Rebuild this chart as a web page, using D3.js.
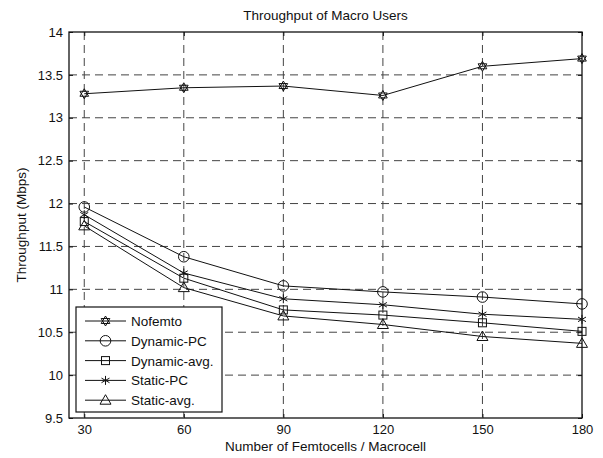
<!DOCTYPE html>
<html>
<head>
<meta charset='UTF-8'/>
<script src="https://cdn.jsdelivr.net/npm/d3@7"></script>
<style>
  body { margin: 0; background: #fff; }
  text { font-family: "Liberation Sans", Arial, sans-serif; fill: #111; }
  .grid line { stroke: #444; stroke-dasharray: 8 5; stroke-width: 1; }
  .series { fill: none; stroke: #111; stroke-width: 1; }
  .mark { fill: none; stroke: #111; stroke-width: 1; }
</style>
</head>
<body>
<svg id='fig' width='603' height='458'></svg>
<script>
  // data
  const femto = [30, 60, 90, 120, 150, 180]
  const names = ['Nofemto', 'Dynamic-PC', 'Dynamic-avg.', 'Static-PC', 'Static-avg.']
  const nofemto    = [13.28, 13.35, 13.37, 13.26, 13.60, 13.69]
  const dynamicPC  = [11.96, 11.38, 11.04, 10.97, 10.91, 10.83]
  const dynamicAvg = [11.79, 11.13, 10.76, 10.70, 10.61, 10.51]
  const staticPC   = [11.87, 11.19, 10.89, 10.82, 10.71, 10.65]
  const staticAvg  = [11.74, 11.02, 10.69, 10.59, 10.45, 10.37]
  const yTicks = [9.5, 10, 10.5, 11, 11.5, 12, 12.5, 13, 13.5, 14]
  const series = [nofemto, dynamicPC, dynamicAvg, staticPC, staticAvg]
  const shapes = ['hexagram', 'circle', 'square', 'asterisk', 'triangle']

  const pLeft = 69, pRight = 582, pTop = 32, pBottom = 418
  const svg = d3.select('#fig')

  const x = d3.scaleLinear().domain([25.4, 180]).range([pLeft, pRight])
  const y = d3.scaleLinear().domain([9.5, 14]).range([pBottom, pTop])

  // dashed grid
  const grid = svg.append('g').attr('class', 'grid')
  grid.selectAll('.gx').data(femto.filter(d => d < 180)).join('line')
      .attr('x1', d => x(d)).attr('x2', d => x(d))
      .attr('y1', pTop).attr('y2', pBottom)
  grid.selectAll('.gy').data(yTicks.filter(d => d > 9.5 && d < 14)).join('line')
      .attr('y1', d => y(d)).attr('y2', d => y(d))
      .attr('x1', pLeft).attr('x2', pRight)

  // axes (ticks pointing inward, like matlab)
  svg.append('g').attr('transform', `translate(0,${pBottom})`)
      .call(d3.axisBottom(x).tickValues(femto).tickSize(-4).tickPadding(7).tickFormat(d3.format('d')))
  svg.append('g').attr('transform', `translate(0,${pTop})`)
      .call(d3.axisTop(x).tickValues(femto).tickSize(-4).tickFormat(''))
  svg.append('g').attr('transform', `translate(${pLeft},0)`)
      .call(d3.axisLeft(y).tickValues(yTicks).tickSize(-4).tickPadding(6).tickFormat(d3.format('')))
  svg.append('g').attr('transform', `translate(${pRight},0)`)
      .call(d3.axisRight(y).tickValues(yTicks).tickSize(-4).tickFormat(''))
  svg.selectAll('.domain').remove()
  svg.selectAll('.tick line').attr('stroke', '#111')
  svg.selectAll('.tick text').attr('font-size', 13).attr('font-family', '"Liberation Sans", Arial, sans-serif').attr('fill', '#111')

  svg.append('rect').attr('x', pLeft).attr('y', pTop)
      .attr('width', pRight - pLeft).attr('height', pBottom - pTop)
      .attr('fill', 'none').attr('stroke', '#111').attr('stroke-width', 1.3)

  function marker(g, shape) {
    if (shape == 'circle') {
      g.append('circle').attr('class', 'mark').attr('r', 5.3)
    } else if (shape == 'square') {
      g.append('rect').attr('class', 'mark').attr('x', -4).attr('y', -4).attr('width', 8).attr('height', 8)
    } else if (shape == 'triangle') {
      g.append('path').attr('class', 'mark').attr('d', 'M0,-5.5L5.5,4L-5.5,4Z')
    } else if (shape == 'asterisk') {
      g.append('path').attr('class', 'mark')
       .attr('d', 'M0,-4.5V4.5M-4,-2.3L4,2.3M-4,2.3L4,-2.3')
    } else {
      g.append('path').attr('class', 'mark')
       .attr('d', d3.range(2).map(k => {
          const pts = d3.range(3).map(i => {
            const a = -Math.PI/2 + k*Math.PI + i*2*Math.PI/3
            return [5*Math.cos(a), 5*Math.sin(a)]
          })
          return 'M' + pts.join('L') + 'Z'
        }).join(''))
    }
  }

  const line = d3.line().x((d, i) => x(femto[i])).y(d => y(d))
  series.forEach((s, k) => {
    svg.append('path').attr('class', 'series').attr('d', line(s))
    s.forEach((v, i) => {
      const g = svg.append('g').attr('transform', `translate(${x(femto[i])},${y(v)})`)
      marker(g, shapes[k])
    })
  })

  // legend
  const lg = svg.append('g')
  lg.append('rect').attr('x', 76).attr('y', 307).attr('width', 146).attr('height', 105)
      .attr('fill', '#fff').attr('stroke', '#111').attr('stroke-width', 1.2)
  names.forEach((n, k) => {
    const yy = 321 + k*19.8
    lg.append('line').attr('x1', 85).attr('x2', 126).attr('y1', yy).attr('y2', yy)
        .attr('stroke', '#111')
    marker(lg.append('g').attr('transform', `translate(105.5,${yy})`), shapes[k])
    lg.append('text').attr('x', 131).attr('y', yy + 5).attr('font-size', 13.5).text(n)
  })

  svg.append('text').attr('x', (pLeft + pRight)/2).attr('y', 20)
      .attr('text-anchor', 'middle').attr('font-size', 13.5).text('Throughput of Macro Users')
  svg.append('text').attr('x', (pLeft + pRight)/2).attr('y', 451)
      .attr('text-anchor', 'middle').attr('font-size', 13.5).text('Number of Femtocells / Macrocell')
  svg.append('text').attr('transform', `translate(26,${(pTop + pBottom)/2}) rotate(-90)`)
      .attr('text-anchor', 'middle').attr('font-size', 13.5).text('Throughput (Mbps)')
</script>
</body>
</html>
